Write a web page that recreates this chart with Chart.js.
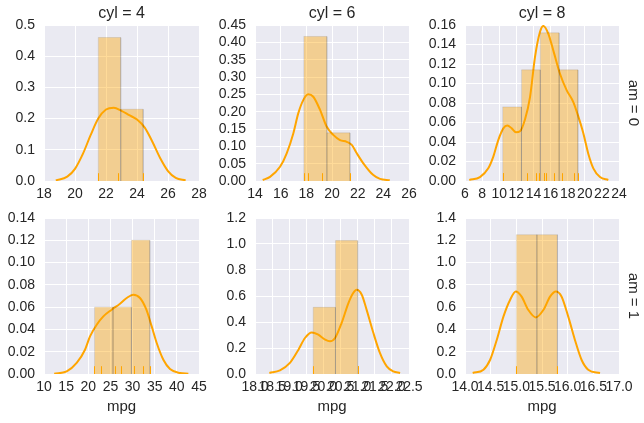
<!DOCTYPE html>
<html>
<head>
<meta charset="utf-8">
<script src="https://cdn.jsdelivr.net/npm/chart.js@4.4.0/dist/chart.umd.min.js"></script>
<style>
  html, body { margin: 0; padding: 0; background: #fff; }
  #grid { position: relative; width: 644px; height: 423px; overflow: hidden; }
  #grid canvas { position: absolute; }
</style>
</head>
<body>
<div id="grid"></div>
<script>
// mpg by am (rows) and cyl (columns): rug values, histogram bins, kde curve, ticks

// am = 0, cyl = 4
const rug_a0c4 = [24.4, 22.8, 21.5];
const edges_a0c4 = [21.5, 22.95, 24.4];
const hist_a0c4 = [0.46, 0.23];
const kdeX_a0c4 = [18.76, 19.5, 20.0, 20.5, 21.0, 21.5, 22.0, 22.5, 23.0, 23.5, 24.0, 24.5, 25.0, 25.5, 26.0, 26.5, 27.14];
const kdeY_a0c4 = [0.002, 0.014, 0.039, 0.086, 0.146, 0.2, 0.229, 0.235, 0.225, 0.211, 0.197, 0.171, 0.125, 0.073, 0.032, 0.01, 0.002];
const xTicks_a0c4 = [18, 20, 22, 24, 26, 28];
const yTicks_a0c4 = [0, 0.1, 0.2, 0.3, 0.4, 0.5];

// am = 0, cyl = 6
const rug_a0c6 = [21.4, 18.1, 19.2, 17.8];
const edges_a0c6 = [17.8, 19.6, 21.4];
const hist_a0c6 = [0.417, 0.139];
const kdeX_a0c6 = [14.6, 15.17, 15.95, 16.47, 16.99, 17.37, 17.77, 18.15, 18.54, 19.07, 19.58, 20.1, 20.62, 21.15, 21.54, 21.93, 22.44, 23.22, 23.74, 24.5];
const kdeY_a0c6 = [0.003, 0.012, 0.041, 0.08, 0.138, 0.195, 0.234, 0.25, 0.243, 0.205, 0.157, 0.133, 0.118, 0.113, 0.104, 0.08, 0.051, 0.017, 0.006, 0.002];
const xTicks_a0c6 = [14, 16, 18, 20, 22, 24, 26];
const yTicks_a0c6 = [0, 0.05, 0.1, 0.15, 0.2, 0.25, 0.3, 0.35, 0.4, 0.45];

// am = 0, cyl = 8
const rug_a0c8 = [18.7, 14.3, 16.4, 17.3, 15.2, 10.4, 10.4, 14.7, 15.5, 15.2, 13.3, 19.2];
const edges_a0c8 = [10.4, 12.6, 14.8, 17.0, 19.2];
const hist_a0c8 = [0.076, 0.114, 0.152, 0.114];
const kdeX_a0c8 = [6.5, 7.75, 8.72, 9.31, 9.89, 10.48, 10.95, 11.46, 11.96, 12.43, 13.01, 13.6, 14.18, 14.77, 15.16, 15.74, 16.32, 17.1, 17.89, 18.66, 19.25, 19.83, 20.41, 21.0, 21.78, 22.75];
const kdeY_a0c8 = [0.001, 0.004, 0.013, 0.025, 0.042, 0.054, 0.057, 0.054, 0.05, 0.051, 0.063, 0.086, 0.127, 0.153, 0.159, 0.151, 0.134, 0.11, 0.093, 0.081, 0.066, 0.049, 0.028, 0.013, 0.004, 0.001];
const xTicks_a0c8 = [6, 8, 10, 12, 14, 16, 18, 20, 22, 24];
const yTicks_a0c8 = [0, 0.02, 0.04, 0.06, 0.08, 0.1, 0.12, 0.14, 0.16];

// am = 1, cyl = 4
const rug_a1c4 = [22.8, 32.4, 30.4, 33.9, 27.3, 26.0, 30.4, 21.4];
const edges_a1c4 = [21.4, 25.57, 29.73, 33.9];
const hist_a1c4 = [0.06, 0.06, 0.12];
const kdeX_a1c4 = [12.3, 15.12, 17.38, 19.26, 20.39, 21.9, 23.4, 25.28, 27.16, 28.67, 30.17, 31.68, 33.12, 34.32, 35.45, 36.95, 38.45, 40.71, 42.6];
const kdeY_a1c4 = [0.0003, 0.0023, 0.0099, 0.0218, 0.0337, 0.0442, 0.0517, 0.0577, 0.0631, 0.0682, 0.0712, 0.0682, 0.0577, 0.0427, 0.0278, 0.0128, 0.0045, 0.0009, 0.0003];
const xTicks_a1c4 = [10, 15, 20, 25, 30, 35, 40, 45];
const yTicks_a1c4 = [0, 0.02, 0.04, 0.06, 0.08, 0.1, 0.12, 0.14];

// am = 1, cyl = 6
const rug_a1c6 = [21.0, 21.0, 19.7];
const edges_a1c6 = [19.7, 20.35, 21.0];
const hist_a1c6 = [0.513, 1.026];
const kdeX_a1c6 = [18.42, 18.73, 19.02, 19.27, 19.46, 19.66, 19.85, 20.05, 20.19, 20.34, 20.53, 20.73, 20.87, 20.97, 21.12, 21.26, 21.46, 21.65, 21.85, 22.04, 22.24];
const kdeY_a1c6 = [0.008, 0.028, 0.085, 0.187, 0.277, 0.32, 0.302, 0.264, 0.251, 0.277, 0.392, 0.546, 0.623, 0.648, 0.61, 0.495, 0.315, 0.162, 0.058, 0.02, 0.008];
const xTicks_a1c6 = [18.0, 18.5, 19.0, 19.5, 20.0, 20.5, 21.0, 21.5, 22.0, 22.5];
const yTicks_a1c6 = [0, 0.2, 0.4, 0.6, 0.8, 1.0, 1.2];

// am = 1, cyl = 8
const rug_a1c8 = [15.8, 15.0];
const edges_a1c8 = [15.0, 15.4, 15.8];
const hist_a1c8 = [1.25, 1.25];
const kdeX_a1c8 = [14.15, 14.36, 14.49, 14.62, 14.75, 14.88, 14.99, 15.1, 15.23, 15.38, 15.53, 15.66, 15.77, 15.88, 16.01, 16.14, 16.27, 16.4, 16.63];
const kdeY_a1c8 = [0.009, 0.039, 0.128, 0.308, 0.517, 0.667, 0.741, 0.696, 0.577, 0.508, 0.577, 0.696, 0.741, 0.696, 0.517, 0.308, 0.128, 0.039, 0.009];
const xTicks_a1c8 = [14.0, 14.5, 15.0, 15.5, 16.0, 16.5, 17.0];
const yTicks_a1c8 = [0, 0.2, 0.4, 0.6, 0.8, 1.0, 1.2, 1.4];

const ORANGE = "#ffa500";
const BAR_FILL = "rgba(255,165,0,0.4)";
const BAR_EDGE = "rgba(0,0,0,0.09)";
const TEXT = "#262626";
const FONT = "'Liberation Sans', Arial, sans-serif";

Chart.defaults.font.family = FONT;
Chart.defaults.color = TEXT;

const Y_AXIS_W = 48;
const X_AXIS_H = 45;
const PAD_RIGHT = 25;

const panels = [
    { rug: rug_a0c4, edges: edges_a0c4, hist: hist_a0c4, kx: kdeX_a0c4, ky: kdeY_a0c4, xt: xTicks_a0c4, yt: yTicks_a0c4, xd: 0, yd: 1,
      title: "cyl = 4", left: 44, width: 155, row: 0 },
    { rug: rug_a0c6, edges: edges_a0c6, hist: hist_a0c6, kx: kdeX_a0c6, ky: kdeY_a0c6, xt: xTicks_a0c6, yt: yTicks_a0c6, xd: 0, yd: 2,
      title: "cyl = 6", left: 255, width: 154, row: 0 },
    { rug: rug_a0c8, edges: edges_a0c8, hist: hist_a0c8, kx: kdeX_a0c8, ky: kdeY_a0c8, xt: xTicks_a0c8, yt: yTicks_a0c8, xd: 0, yd: 2,
      title: "cyl = 8", margin: "am = 0", left: 465, width: 154, row: 0 },
    { rug: rug_a1c4, edges: edges_a1c4, hist: hist_a1c4, kx: kdeX_a1c4, ky: kdeY_a1c4, xt: xTicks_a1c4, yt: yTicks_a1c4, xd: 0, yd: 2,
      xlabel: "mpg", left: 44, width: 155, row: 1 },
    { rug: rug_a1c6, edges: edges_a1c6, hist: hist_a1c6, kx: kdeX_a1c6, ky: kdeY_a1c6, xt: xTicks_a1c6, yt: yTicks_a1c6, xd: 1, yd: 1,
      xlabel: "mpg", left: 255, width: 154, row: 1 },
    { rug: rug_a1c8, edges: edges_a1c8, hist: hist_a1c8, kx: kdeX_a1c8, ky: kdeY_a1c8, xt: xTicks_a1c8, yt: yTicks_a1c8, xd: 1, yd: 1,
      xlabel: "mpg", margin: "am = 1", left: 465, width: 154, row: 1 },
];

const rowTop = [25, 218];
const rowCanvasTop = [0, 200];
const PLOT_H = 156;

const facetPlugin = {
    id: "facet",
    beforeDraw(chart) {
        const a = chart.chartArea;
        const ctx = chart.ctx;
        ctx.save();
        ctx.fillStyle = "#eaeaf2";
        ctx.fillRect(a.left, a.top, a.right - a.left, a.bottom - a.top);
        ctx.restore();
    },
    afterDatasetsDraw(chart) {
        const p = chart.options.plugins.facet;
        const a = chart.chartArea;
        const xs = chart.scales.x;
        const ctx = chart.ctx;
        const h = (a.bottom - a.top) * 0.05;
        ctx.save();
        ctx.strokeStyle = ORANGE;
        ctx.lineWidth = 1;
        p.rug.forEach((v) => {
            const x = Math.round(xs.getPixelForValue(v)) + 0.5;
            ctx.beginPath();
            ctx.moveTo(x, a.bottom);
            ctx.lineTo(x, a.bottom - h);
            ctx.stroke();
        });
        ctx.restore();
    },
    afterDraw(chart) {
        const p = chart.options.plugins.facet;
        const a = chart.chartArea;
        const ctx = chart.ctx;
        const cx = (a.left + a.right) / 2;
        ctx.save();
        ctx.fillStyle = TEXT;
        ctx.textAlign = "center";
        ctx.textBaseline = "alphabetic";
        ctx.font = "16px " + FONT;
        if (p.title) ctx.fillText(p.title, cx, a.top - 7);
        ctx.font = "15px " + FONT;
        if (p.xlabel) ctx.fillText(p.xlabel, cx, a.bottom + 37);
        if (p.margin) {
            ctx.translate(a.right + 14, (a.top + a.bottom) / 2);
            ctx.rotate(Math.PI / 2);
            ctx.textBaseline = "middle";
            ctx.fillText(p.margin, 0, 0);
        }
        ctx.restore();
    },
};

const grid = document.getElementById("grid");

panels.forEach((p) => {
    const padTop = rowTop[p.row] - rowCanvasTop[p.row];
    const canvas = document.createElement("canvas");
    const w = Y_AXIS_W + p.width + PAD_RIGHT;
    const h = padTop + PLOT_H + X_AXIS_H;
    canvas.width = w;
    canvas.height = h;
    canvas.style.left = p.left - Y_AXIS_W + "px";
    canvas.style.top = rowCanvasTop[p.row] + "px";
    canvas.style.width = w + "px";
    canvas.style.height = h + "px";
    grid.appendChild(canvas);

    const bars = p.hist.map((v, i) => ({
        type: "line",
        data: [
            { x: p.edges[i], y: 0 },
            { x: p.edges[i], y: v },
            { x: p.edges[i + 1], y: v },
            { x: p.edges[i + 1], y: 0 },
        ],
        fill: "origin",
        backgroundColor: BAR_FILL,
        borderColor: BAR_EDGE,
        borderWidth: 1,
        pointRadius: 0,
        tension: 0,
    }));

    const kde = {
        type: "line",
        data: p.kx.map((x, i) => ({ x, y: p.ky[i] })),
        borderColor: ORANGE,
        borderWidth: 2,
        pointRadius: 0,
        fill: false,
        cubicInterpolationMode: "monotone",
    };

    new Chart(canvas, {
        type: "line",
        data: { datasets: [...bars, kde] },
        options: {
            responsive: false,
            animation: false,
            events: [],
            devicePixelRatio: 1,
            layout: { autoPadding: false, padding: { left: 0, top: padTop, right: PAD_RIGHT, bottom: 0 } },
            scales: {
                x: {
                    type: "linear",
                    min: p.xt[0],
                    max: p.xt[p.xt.length - 1],
                    afterBuildTicks: (s) => { s.ticks = p.xt.map((v) => ({ value: v })); },
                    afterFit: (s) => { s.height = X_AXIS_H; },
                    grid: { color: "#ffffff", lineWidth: 1, drawTicks: false },
                    border: { display: false },
                    ticks: {
                        autoSkip: false,
                        maxRotation: 0,
                        minRotation: 0,
                        padding: 5,
                        font: { size: 14 },
                        color: TEXT,
                        callback: (v) => Number(v).toFixed(p.xd),
                    },
                },
                y: {
                    type: "linear",
                    min: 0,
                    max: p.yt[p.yt.length - 1],
                    afterBuildTicks: (s) => { s.ticks = p.yt.map((v) => ({ value: v })); },
                    afterFit: (s) => { s.width = Y_AXIS_W; },
                    grid: { color: "#ffffff", lineWidth: 1, drawTicks: false },
                    border: { display: false },
                    ticks: {
                        autoSkip: false,
                        padding: 9,
                        font: { size: 14 },
                        color: TEXT,
                        callback: (v) => Number(v).toFixed(p.yd),
                    },
                },
            },
            plugins: {
                legend: { display: false },
                tooltip: { enabled: false },
                facet: { rug: p.rug, title: p.title, xlabel: p.xlabel, margin: p.margin },
            },
        },
        plugins: [facetPlugin],
    });
});
</script>
</body>
</html>
